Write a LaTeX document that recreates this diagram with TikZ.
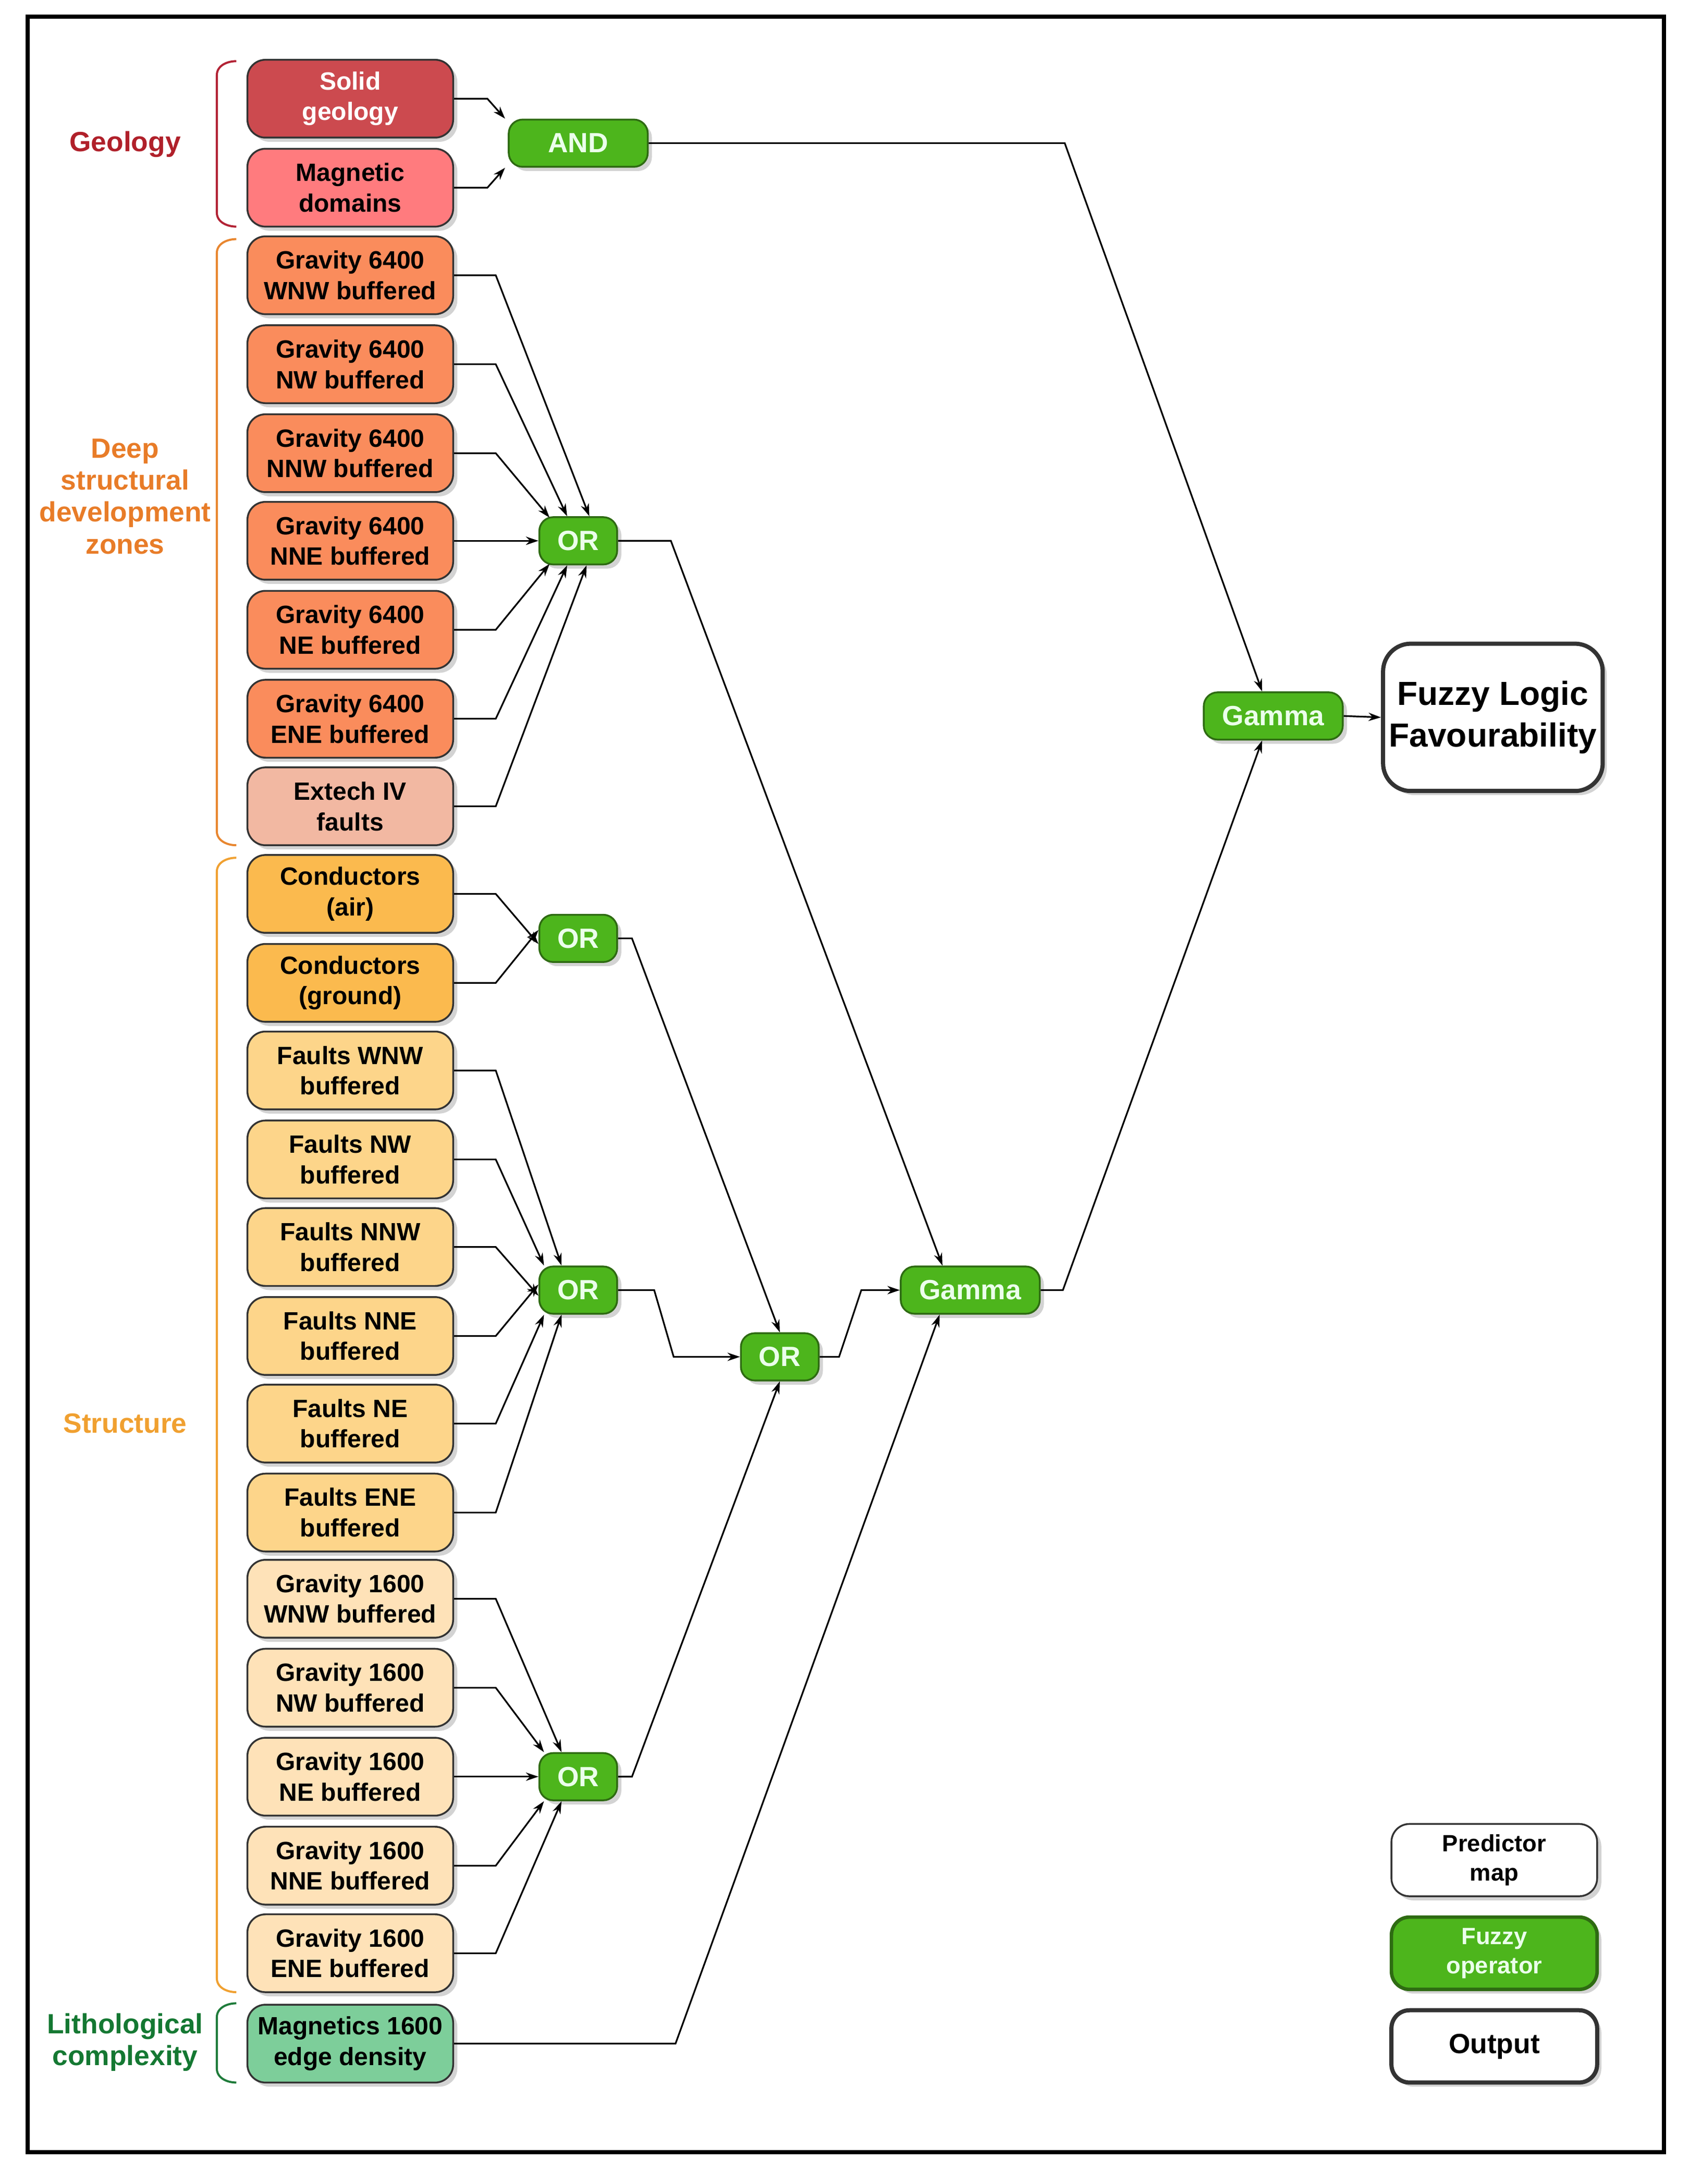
\documentclass[tikz,border=0pt]{standalone}
\usepackage{fontspec}
\setmainfont{Liberation Sans}
\usetikzlibrary{shadows,arrows.meta}
\definecolor{opg}{HTML}{4DB51C}
\definecolor{opd}{HTML}{2E6B12}
\begin{document}
\begin{tikzpicture}[x=1pt,y=-1pt,
 box/.style={draw=black!80,line width=1.3pt,rounded corners=13pt,minimum width=148pt,minimum height=56pt,align=center,font=\fontsize{18}{22}\selectfont\bfseries,inner sep=1pt,drop shadow={opacity=0.35,shadow xshift=3pt,shadow yshift=-3pt}},
 op/.style={draw=opd,line width=1.3pt,fill=opg,rounded corners=10pt,minimum height=34pt,minimum width=56pt,text=green!8,font=\fontsize{20}{24}\selectfont\bfseries,inner sep=2pt,drop shadow={opacity=0.35,shadow xshift=3pt,shadow yshift=-3pt}},
 c/.style={line width=1.2pt,-{Stealth[length=9pt,width=6pt]}},
 lab/.style={align=center,font=\fontsize{20}{23}\selectfont\bfseries}]
\useasboundingbox (0,0) rectangle (1215,1571);
\draw[line width=3pt] (20,12) rectangle (1197,1548);
% left boxes
\def\X{252}
\node[box,fill={rgb,255:red,204;green,74;blue,79},text=white] (sg) at (\X,71) {Solid\\geology};
\node[box,fill={rgb,255:red,255;green,123;blue,126}] (md) at (\X,135) {Magnetic\\domains};
\foreach \n/\y/\t in {g1/198/WNW,g2/262/NW,g3/326/NNW,g4/389/NNE,g5/453/NE,g6/517/ENE}
 \node[box,fill={rgb,255:red,250;green,140;blue,92}] (\n) at (\X,\y) {Gravity 6400\\\t\ buffered};
\node[box,fill={rgb,255:red,242;green,184;blue,162}] (ex) at (\X,580) {Extech IV\\faults};
\node[box,fill={rgb,255:red,251;green,186;blue,78}] (ca) at (\X,643) {Conductors\\(air)};
\node[box,fill={rgb,255:red,251;green,186;blue,78}] (cg) at (\X,707) {Conductors\\(ground)};
\foreach \n/\y/\t in {f1/770/WNW,f2/834/NW,f3/897/NNW,f4/961/NNE,f5/1024/NE,f6/1088/ENE}
 \node[box,fill={rgb,255:red,253;green,213;blue,138}] (\n) at (\X,\y) {Faults \t\\buffered};
\foreach \n/\y/\t in {h1/1150/WNW,h2/1214/NW,h3/1278/NE,h4/1342/NNE,h5/1405/ENE}
 \node[box,fill={rgb,255:red,254;green,226;blue,184}] (\n) at (\X,\y) {Gravity 1600\\\t\ buffered};
\node[box,fill={rgb,255:red,125;green,206;blue,154}] (mg) at (\X,1470) {Magnetics 1600\\edge density};
% operators
\node[op,minimum width=100pt] (and) at (416,103) {AND};
\node[op] (or1) at (416,389) {OR};
\node[op] (or2) at (416,675) {OR};
\node[op] (or3) at (416,928) {OR};
\node[op] (or4) at (561,976) {OR};
\node[op] (or5) at (416,1278) {OR};
\node[op,minimum width=100pt] (ga1) at (698,928) {Gamma};
\node[op,minimum width=100pt] (ga2) at (916,515) {Gamma};
\node[box,line width=3pt,fill=white,minimum width=158pt,minimum height=106pt,rounded corners=20pt,font=\fontsize{24}{30}\selectfont\bfseries] (out) at (1074,516) {Fuzzy Logic\\Favourability};
% legend
\node[box,fill=white,minimum height=52pt,font=\fontsize{17}{21}\selectfont\bfseries] (l1) at (1075,1338) {Predictor\\map};
\node[box,fill=opg,draw=opd,line width=2.5pt,text=green!8,minimum height=52pt,font=\fontsize{17}{21}\selectfont\bfseries] (l2) at (1075,1405) {Fuzzy\\operator};
\node[box,fill=white,line width=3pt,minimum height=52pt,font=\fontsize{20}{24}\selectfont\bfseries] (l3) at (1075,1472) {Output};
% connectors
\draw[c] (sg.east) -- ++(24,0) -- ([xshift=-2pt]and.north west);
\draw[c] (md.east) -- ++(24,0) -- ([xshift=-2pt]and.south west);
\draw[c] (g1.east) -- ++(30,0) -- ([xshift=8pt]or1.north);
\draw[c] (g2.east) -- ++(30,0) -- ([xshift=-8pt]or1.north);
\draw[c] (g3.east) -- ++(30,0) -- ([xshift=8pt,yshift=-1pt]or1.north west);
\draw[c] (g4.east) -- (or1.west);
\draw[c] (g5.east) -- ++(30,0) -- ([xshift=8pt,yshift=1pt]or1.south west);
\draw[c] (g6.east) -- ++(30,0) -- ([xshift=-8pt]or1.south);
\draw[c] (ex.east) -- ++(30,0) -- ([xshift=6pt]or1.south);
\draw[c] (ca.east) -- ++(30,0) -- ([yshift=-4pt]or2.west);
\draw[c] (cg.east) -- ++(30,0) -- ([yshift=6pt]or2.west);
\draw[c] (f1.east) -- ++(30,0) -- ([xshift=-12pt]or3.north);
\draw[c] (f2.east) -- ++(30,0) -- ([xshift=4pt]or3.north west);
\draw[c] (f3.east) -- ++(30,0) -- ([yshift=-4pt]or3.west);
\draw[c] (f4.east) -- ++(30,0) -- ([yshift=4pt]or3.west);
\draw[c] (f5.east) -- ++(30,0) -- ([xshift=4pt]or3.south west);
\draw[c] (f6.east) -- ++(30,0) -- ([xshift=-12pt]or3.south);
\draw[c] (h1.east) -- ++(30,0) -- ([xshift=-12pt]or5.north);
\draw[c] (h2.east) -- ++(30,0) -- ([xshift=4pt]or5.north west);
\draw[c] (h3.east) -- (or5.west);
\draw[c] (h4.east) -- ++(30,0) -- ([xshift=4pt]or5.south west);
\draw[c] (h5.east) -- ++(30,0) -- ([xshift=-12pt]or5.south);
\draw[c] (and.east) -- (766,103) -- ([xshift=-8pt]ga2.north);
\draw[c] (or1.east) -- ++(38,0) -- ([xshift=-20pt]ga1.north);
\draw[c] (or2.east) -- ++(10,0) -- (or4.north);
\draw[c] (or3.east) -- ++(26,0) -- ++(14,48) -- (or4.west);
\draw[c] (or5.east) -- ++(10,0) -- (or4.south);
\draw[c] (or4.east) -- ++(14,0) -- ++(16,-48) -- (ga1.west);
\draw[c] (mg.east) -- (486,1470) -- ([xshift=-22pt]ga1.south);
\draw[c] (ga1.east) -- ++(16,0) -- ([xshift=-8pt]ga2.south);
\draw[c] (ga2.east) -- (out.west);
% brackets
\foreach \a/\b/\col in {44/163/{rgb,255:red,178;green,34;blue,52},172/608/{rgb,255:red,232;green,134;blue,47},617/1433/{rgb,255:red,240;green,160;blue,48},1441/1498/{rgb,255:red,30;green,123;blue,58}}
 \draw[line width=1.5pt,color=\col] (170,\a) to[out=180,in=90] (156,\a+10) -- (156,\b-10) to[out=-90,in=180] (170,\b);
\node[lab,text={rgb,255:red,176;green,32;blue,42}] (t1) at (90,104) {Geology};
\node[lab,text={rgb,255:red,232;green,124;blue,40}] (t2) at (90,357) {Deep\\structural\\development\\zones};
\node[lab,text={rgb,255:red,240;green,160;blue,48}] (t3) at (90,1024) {Structure};
\node[lab,text={rgb,255:red,20;green,120;blue,50}] (t4) at (90,1469) {Lithological\\complexity};
\end{tikzpicture}
\end{document}
